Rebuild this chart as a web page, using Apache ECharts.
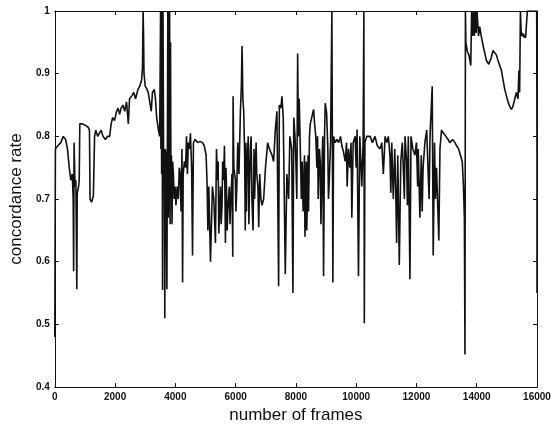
<!DOCTYPE html>
<html><head><meta charset="utf-8">
<script src="https://cdn.jsdelivr.net/npm/echarts@6/dist/echarts.min.js"></script>
<style>html,body{margin:0;padding:0;background:#fff}#c{width:560px;height:429px}</style>
</head><body><div id="c"></div>
<script>
const frames = [0,20,100,200,280,360,420,480,530,580,610,625,640,670,700,730,745,790,810,830,900,1000,1100,1150,1170,1220,1280,1320,1360,1420,1480,1540,1600,1680,1750,1820,1870,1920,1980,2050,2100,2150,2200,2260,2320,2380,2440,2480,2560,2620,2680,2760,2820,2880,2910,2930,2945,2960,3000,3060,3100,3160,3200,3240,3300,3340,3380,3440,3480,3510,3520,3530,3545,3560,3575,3590,3610,3630,3650,3665,3690,3720,3735,3750,3765,3780,3795,3810,3825,3840,3855,3870,3890,3910,3935,3960,3990,4020,4060,4100,4130,4160,4190,4220,4240,4260,4300,4340,4370,4400,4430,4470,4500,4540,4570,4600,4660,4740,4820,4900,4960,5020,5050,5080,5110,5166,5230,5276,5330,5365,5400,5442,5497,5550,5600,5629,5662,5700,5740,5790,5840,5880,5905,5916,5940,5993,6040,6070,6110,6159,6190,6214,6240,6269,6300,6320,6340,6380,6420,6460,6490,6540,6578,6610,6655,6700,6740,6766,6800,6840,6876,6930,6990,7063,7120,7207,7260,7317,7370,7427,7450,7500,7537,7580,7648,7700,7758,7800,7860,7901,7930,7970,8000,8030,8058,8080,8110,8146,8180,8210,8240,8270,8300,8330,8360,8390,8420,8450,8477,8530,8587,8620,8660,8697,8740,8780,8808,8860,8918,8950,8973,9020,9060,9100,9150,9194,9210,9227,9250,9300,9359,9420,9480,9525,9580,9635,9680,9745,9790,9830,9856,9900,9966,10000,10030,10076,10120,10187,10230,10255,10270,10290,10350,10462,10540,10625,10700,10791,10850,10901,10960,11020,11067,11120,11180,11232,11280,11342,11380,11431,11480,11530,11563,11620,11673,11730,11784,11820,11880,11949,12000,12060,12115,12160,12220,12280,12340,12390,12450,12523,12556,12600,12666,12743,12780,12832,12900,12980,13050,13107,13200,13280,13329,13400,13460,13520,13560,13590,13610,13625,13640,13690,13740,13803,13830,13860,13890,13920,13950,13980,14010,14060,14100,14150,14211,14280,14321,14400,14431,14480,14541,14600,14652,14700,14762,14820,14873,14930,14983,15040,15093,15150,15203,15260,15314,15369,15400,15424,15450,15479,15520,15560,15590,15620,15645,15680,15990,16000,16000];
const rate = [0.48,0.78,0.785,0.79,0.80,0.795,0.78,0.75,0.73,0.74,0.70,0.585,0.79,0.72,0.73,0.556,0.71,0.72,0.73,0.82,0.82,0.818,0.815,0.81,0.70,0.695,0.705,0.80,0.81,0.80,0.805,0.81,0.80,0.795,0.80,0.80,0.82,0.83,0.825,0.84,0.845,0.835,0.845,0.85,0.84,0.855,0.82,0.86,0.865,0.87,0.86,0.875,0.88,0.89,0.91,1.0,0.96,0.90,0.88,0.875,0.87,0.87,0.84,0.87,0.875,0.86,0.83,0.81,0.80,1.0,0.78,1.0,0.74,1.0,0.555,1.0,0.77,0.78,0.51,0.78,0.77,0.556,0.78,1.0,0.67,1.0,0.68,1.0,0.66,0.95,0.70,0.77,0.66,0.76,0.74,0.70,0.72,0.69,0.72,0.70,0.75,0.74,0.68,0.78,0.567,0.74,0.76,0.75,0.80,0.74,0.79,0.78,0.805,0.75,0.61,0.79,0.795,0.79,0.792,0.79,0.785,0.77,0.73,0.65,0.72,0.60,0.72,0.70,0.63,0.78,0.73,0.645,0.72,0.69,0.73,0.785,0.63,0.71,0.68,0.72,0.70,0.74,0.608,0.864,0.75,0.73,0.72,0.79,0.74,0.84,0.88,0.944,0.86,0.84,0.77,0.65,0.79,0.76,0.80,0.72,0.78,0.70,0.65,0.78,0.75,0.74,0.72,0.655,0.74,0.70,0.69,0.70,0.75,0.79,0.78,0.77,0.76,0.81,0.84,0.561,0.85,0.845,0.864,0.83,0.58,0.74,0.70,0.80,0.78,0.55,0.83,0.80,0.76,0.70,0.932,0.80,0.86,0.78,0.70,0.76,0.68,0.74,0.64,0.72,0.65,0.73,0.68,0.80,0.82,0.822,0.843,0.82,0.80,0.75,0.70,0.78,0.76,0.74,0.577,0.80,0.853,0.837,0.78,0.72,0.79,1.0,0.80,0.567,0.80,0.79,0.795,0.79,0.80,0.785,0.775,0.76,0.79,0.78,0.75,0.79,0.67,0.79,0.80,0.75,0.811,0.577,0.80,0.72,0.79,1.0,0.502,0.79,0.80,0.80,0.79,0.80,0.785,0.78,0.79,0.74,0.80,0.79,0.80,0.77,0.79,0.70,0.78,0.63,0.77,0.595,0.76,0.79,0.75,0.80,0.76,0.80,0.572,0.80,0.78,0.77,0.79,0.78,0.67,0.77,0.75,0.79,0.81,0.74,0.80,0.88,0.61,0.79,0.75,0.634,0.78,0.81,0.805,0.80,0.795,0.79,0.795,0.79,0.785,0.78,0.77,0.76,0.72,0.67,0.452,1.0,0.95,0.935,0.93,0.913,1.0,0.96,1.0,0.96,1.0,0.965,1.0,0.96,0.975,0.96,0.945,0.93,0.921,0.915,0.913,0.925,0.937,0.935,0.93,0.922,0.92,0.905,0.89,0.875,0.865,0.855,0.848,0.843,0.848,0.85,0.87,0.86,0.905,0.87,1.0,0.96,0.965,0.958,0.962,0.957,0.96,1.0,1.0,0.77,0.55];
// extra short strokes read from the dense stretches
const strokeFrames = [5420,5520,5570,5680,5720,5815,6010,6360,6440,6515,6630,6680,8285,8345,8405,8720,8830,8890,9080,9700,11150,11310,11600,11700,12040,12190,12420,12630];
const strokeRate   = [0.76,0.66,0.76,0.75,0.65,0.66,0.68,0.68,0.66,0.80,0.70,0.79,0.77,0.76,0.77,0.80,0.66,0.80,0.70,0.72,0.71,0.72,0.70,0.69,0.72,0.68,0.70,0.70];
const xTickValues = [0,2000,4000,6000,8000,10000,12000,14000,16000];
const yTickValues = [0.4,0.5,0.6,0.7,0.8,0.9,1];

const points = frames.map((f,i)=>[f,rate[i],i])
  .concat(strokeFrames.map((f,i)=>[f,strokeRate[i],1e6+i]))
  .sort((a,b)=>a[0]-b[0]||a[2]-b[2])
  .map(p=>[p[0],p[1]]);

const xMin = xTickValues[0], xMax = xTickValues[xTickValues.length-1], xStep = xTickValues[1]-xTickValues[0];
const yMin = yTickValues[0], yMax = yTickValues[yTickValues.length-1];
const ink = '#111';
const font = 'Liberation Sans, Arial, sans-serif';
const axisCommon = {
  axisLine:{show:true,onZero:false,lineStyle:{color:ink,width:1}},
  axisTick:{show:true,inside:true,length:4,lineStyle:{color:ink,width:1}},
  splitLine:{show:false}
};
const chart = echarts.init(document.getElementById('c'), null, {renderer:'canvas'});
chart.setOption({
  animation:false,
  backgroundColor:'#fff',
  grid:{left:54,right:23,top:11,bottom:34,containLabel:false},
  xAxis:[
    Object.assign({type:'value',min:xMin,max:xMax,interval:xStep,position:'bottom',
      name:'number of frames',nameLocation:'middle',nameGap:15,
      nameTextStyle:{fontFamily:font,fontSize:17,color:ink},
      axisLabel:{fontFamily:font,fontWeight:'bold',fontSize:10,color:ink,margin:5,
        formatter:v=>String(Math.round(v))}},axisCommon),
    Object.assign({type:'value',min:xMin,max:xMax,interval:xStep,position:'top',
      axisLabel:{show:false}},axisCommon)
  ],
  yAxis:[
    Object.assign({type:'value',min:yMin,max:yMax,interval:0.1,position:'left',
      name:'concordance rate',nameLocation:'middle',nameGap:26,
      nameTextStyle:{fontFamily:font,fontSize:17,color:ink},
      axisLabel:{fontFamily:font,fontWeight:'bold',fontSize:10,color:ink,margin:5,
        formatter:v=>String(Math.round(v*10)/10)}},axisCommon),
    Object.assign({type:'value',min:yMin,max:yMax,interval:0.1,position:'right',
      axisLabel:{show:false}},axisCommon)
  ],
  series:[{
    type:'line',xAxisIndex:0,yAxisIndex:0,
    data:points,
    showSymbol:false,symbol:'none',
    lineStyle:{color:ink,width:1.6},
    clip:true
  }]
});
</script>
</body></html>
